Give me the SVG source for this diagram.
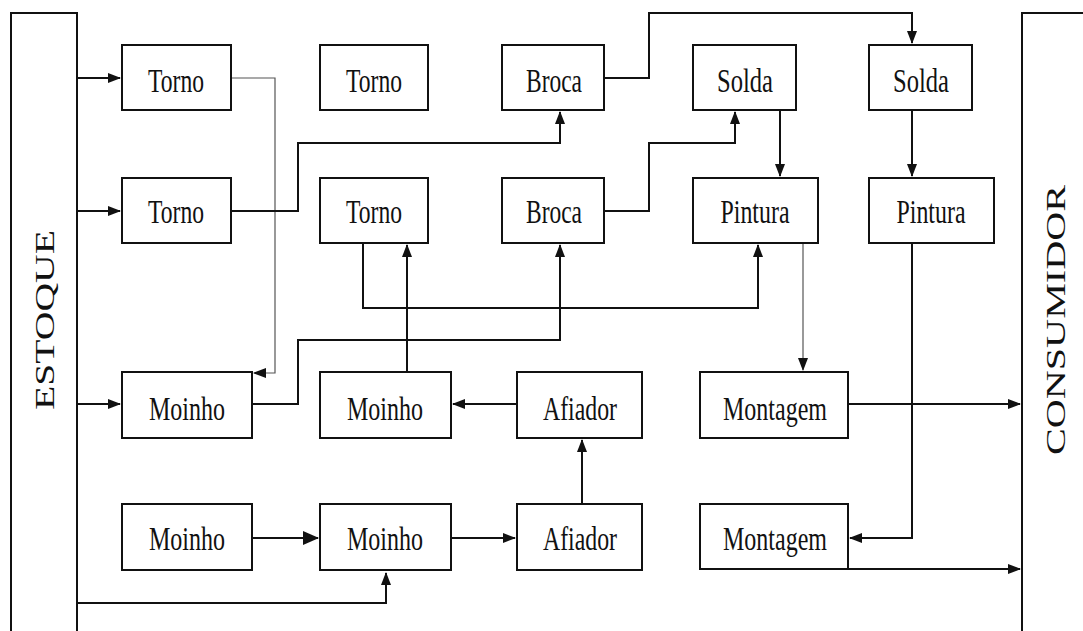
<svg xmlns="http://www.w3.org/2000/svg" width="1083" height="631" viewBox="0 0 1083 631">
  <defs>
    <style>
      .box { fill: #ffffff; stroke: #111111; stroke-width: 2; }
      .lbl { font-family: "Liberation Serif", "DejaVu Serif", serif; font-size: 34px; fill: #111111; text-anchor: middle; }
      .side { font-family: "Liberation Serif", "DejaVu Serif", serif; font-size: 28px; fill: #111111; text-anchor: middle; }
      .wall { fill: none; stroke: #111111; stroke-width: 2; }
      .flow { fill: none; stroke: #111111; stroke-width: 2; marker-end: url(#arr); }
      .flow-thin { fill: none; stroke: #555555; stroke-width: 1.2; marker-end: url(#arr); }
      .flow-big { fill: none; stroke: #111111; stroke-width: 2; marker-end: url(#arrBig); }
    </style>
    <marker id="arr" viewBox="0 0 13 10" markerWidth="13" markerHeight="10" refX="12" refY="5" orient="auto" markerUnits="userSpaceOnUse">
      <path d="M0,0 L13,5 L0,10 Z" fill="#111111"/>
    </marker>
    <marker id="arrBig" viewBox="0 0 16 14" markerWidth="16" markerHeight="14" refX="15" refY="7" orient="auto" markerUnits="userSpaceOnUse">
      <path d="M0,0 L16,7 L0,14 Z" fill="#111111"/>
    </marker>
  </defs>

  <rect width="1083" height="631" fill="#ffffff"/>

  <!-- stock (left) and consumer (right) walls -->
  <g id="estoque">
    <path class="wall" d="M11,631 V13 H77 V631"/>
    <text class="side" lengthAdjust="spacingAndGlyphs" textLength="180" transform="translate(54,320) rotate(-90)">ESTOQUE</text>
  </g>
  <g id="consumidor">
    <path class="wall" d="M1022,631 V13 H1083"/>
    <text class="side" lengthAdjust="spacingAndGlyphs" textLength="270" transform="translate(1065,320) rotate(-90)">CONSUMIDOR</text>
  </g>

  <!-- connectors -->
  <g id="connectors">
    <path class="flow" d="M77,78 H120"/>
    <path class="flow" d="M77,211 H120"/>
    <path class="flow" d="M77,404 H120"/>
    <path class="flow" d="M77,603 H386 V573"/>
    <path class="flow-thin" d="M231,78 H275 V373 H254"/>
    <path class="flow" d="M231,211 H298 V143 H560 V112"/>
    <path class="flow" d="M604,78 H649 V13 H912 V43"/>
    <path class="flow" d="M604,211 H649 V143 H735 V112"/>
    <path class="flow" d="M780,110 V176"/>
    <path class="flow" d="M912,110 V176"/>
    <path class="flow" d="M363,243 V308 H758 V245"/>
    <path class="flow" d="M252,404 H298 V340 H560 V245"/>
    <path class="flow" d="M407,372 V245"/>
    <path class="flow" d="M517,404 H453"/>
    <path class="flow" d="M582,504 V440"/>
    <path class="flow-big" d="M252,538 H318"/>
    <path class="flow" d="M451,538 H515"/>
    <path class="flow-thin" d="M803,243 V370"/>
    <path class="flow" d="M848,404 H1020"/>
    <path class="flow" d="M912,243 V538 H850"/>
    <path class="flow" d="M848,569 H1020"/>
  </g>

  <!-- row 1 -->
  <g id="torno1"><rect class="box" x="122" y="45" width="109" height="65"/><text class="lbl" x="176" y="92" textLength="56" lengthAdjust="spacingAndGlyphs">Torno</text></g>
  <g id="torno2"><rect class="box" x="320" y="45" width="108" height="65"/><text class="lbl" x="374" y="92" textLength="56" lengthAdjust="spacingAndGlyphs">Torno</text></g>
  <g id="broca1"><rect class="box" x="502" y="45" width="102" height="65"/><text class="lbl" x="554" y="92" textLength="56" lengthAdjust="spacingAndGlyphs">Broca</text></g>
  <g id="solda1"><rect class="box" x="693" y="45" width="103" height="65"/><text class="lbl" x="745" y="92" textLength="56" lengthAdjust="spacingAndGlyphs">Solda</text></g>
  <g id="solda2"><rect class="box" x="869" y="45" width="103" height="65"/><text class="lbl" x="921" y="92" textLength="56" lengthAdjust="spacingAndGlyphs">Solda</text></g>

  <!-- row 2 -->
  <g id="torno3"><rect class="box" x="122" y="178" width="109" height="65"/><text class="lbl" x="176" y="223" textLength="56" lengthAdjust="spacingAndGlyphs">Torno</text></g>
  <g id="torno4"><rect class="box" x="320" y="178" width="108" height="65"/><text class="lbl" x="374" y="223" textLength="56" lengthAdjust="spacingAndGlyphs">Torno</text></g>
  <g id="broca2"><rect class="box" x="502" y="178" width="102" height="65"/><text class="lbl" x="554" y="223" textLength="56" lengthAdjust="spacingAndGlyphs">Broca</text></g>
  <g id="pintura1"><rect class="box" x="693" y="178" width="125" height="65"/><text class="lbl" x="755" y="223" textLength="69" lengthAdjust="spacingAndGlyphs">Pintura</text></g>
  <g id="pintura2"><rect class="box" x="869" y="178" width="125" height="65"/><text class="lbl" x="931" y="223" textLength="69" lengthAdjust="spacingAndGlyphs">Pintura</text></g>

  <!-- row 3 -->
  <g id="moinho1"><rect class="box" x="122" y="372" width="130" height="66"/><text class="lbl" x="187" y="420" textLength="76" lengthAdjust="spacingAndGlyphs">Moinho</text></g>
  <g id="moinho2"><rect class="box" x="320" y="372" width="131" height="66"/><text class="lbl" x="385" y="420" textLength="76" lengthAdjust="spacingAndGlyphs">Moinho</text></g>
  <g id="afiador1"><rect class="box" x="517" y="372" width="125" height="66"/><text class="lbl" x="580" y="420" textLength="74" lengthAdjust="spacingAndGlyphs">Afiador</text></g>
  <g id="montagem1"><rect class="box" x="700" y="372" width="148" height="66"/><text class="lbl" x="775" y="420" textLength="104" lengthAdjust="spacingAndGlyphs">Montagem</text></g>

  <!-- row 4 -->
  <g id="moinho3"><rect class="box" x="122" y="504" width="130" height="66"/><text class="lbl" x="187" y="550" textLength="76" lengthAdjust="spacingAndGlyphs">Moinho</text></g>
  <g id="moinho4"><rect class="box" x="320" y="504" width="131" height="66"/><text class="lbl" x="385" y="550" textLength="76" lengthAdjust="spacingAndGlyphs">Moinho</text></g>
  <g id="afiador2"><rect class="box" x="517" y="504" width="125" height="66"/><text class="lbl" x="580" y="550" textLength="74" lengthAdjust="spacingAndGlyphs">Afiador</text></g>
  <g id="montagem2"><rect class="box" x="700" y="504" width="148" height="65"/><text class="lbl" x="775" y="550" textLength="104" lengthAdjust="spacingAndGlyphs">Montagem</text></g>
</svg>
